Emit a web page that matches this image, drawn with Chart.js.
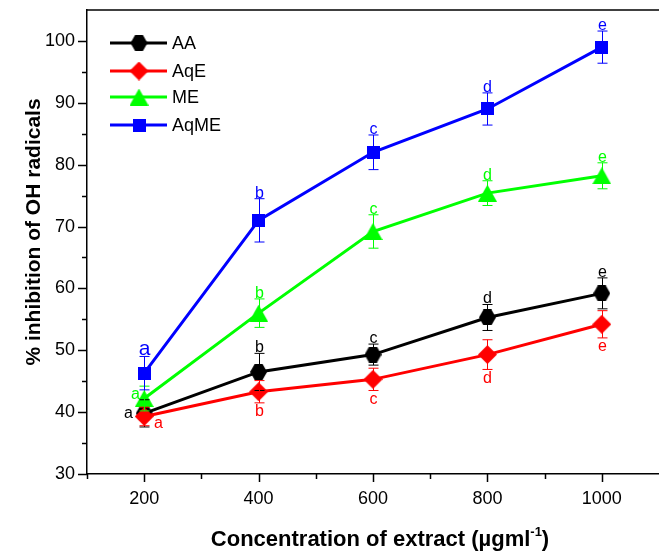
<!DOCTYPE html>
<html>
<head>
<meta charset="utf-8">
<script src="https://cdn.jsdelivr.net/npm/chart.js@4.4.0/dist/chart.umd.min.js"></script>
<style>
  html, body { margin: 0; padding: 0; background: #fff; }
  #wrap { width: 659px; height: 552px; }
</style>
</head>
<body>
<div id="wrap"><canvas id="chart" width="659" height="552"></canvas></div>
<script>
// data
const concentrations = [200, 400, 600, 800, 1000];

const aaValues   = [39.8, 46.5, 49.3, 55.3, 59.2];
const aaErrors   = [2.2, 3.0, 1.7, 2.1, 2.5];
const aaLetters  = ["a", "b", "c", "d", "e"];

const aqeValues  = [39.3, 43.3, 45.3, 49.3, 54.2];
const aqeErrors  = [1.5, 1.8, 1.8, 2.4, 2.2];
const aqeLetters = ["a", "b", "c", "d", "e"];

const meValues   = [42.2, 56.0, 69.2, 75.4, 78.2];
const meErrors   = [2.0, 2.3, 2.7, 2.0, 2.1];
const meLetters  = ["a", "b", "c", "d", "e"];

const aqmeValues  = [46.3, 71.0, 82.0, 89.0, 99.0];
const aqmeErrors  = [2.7, 3.5, 2.8, 2.6, 2.6];
const aqmeLetters = ["a", "b", "c", "d", "e"];

const yTicks = [30, 40, 50, 60, 70, 80, 90, 100];
const xTicks = [200, 400, 600, 800, 1000];

// marker images (Origin-like symbols)
function makeMarker(shape, color) {
  const c = document.createElement("canvas");
  const dims = { hexagon: [17, 16], diamond: [19, 19], triangle: [19, 17], square: [13, 13] }[shape];
  c.width = dims[0]; c.height = dims[1];
  const g = c.getContext("2d");
  const w = c.width, h = c.height;
  g.fillStyle = color;
  g.beginPath();
  if (shape === "hexagon") {
    g.moveTo(0, h / 2); g.lineTo(w * 0.27, 0); g.lineTo(w * 0.73, 0);
    g.lineTo(w, h / 2); g.lineTo(w * 0.73, h); g.lineTo(w * 0.27, h);
  } else if (shape === "diamond") {
    g.moveTo(w / 2, 0); g.lineTo(w, h / 2); g.lineTo(w / 2, h); g.lineTo(0, h / 2);
  } else if (shape === "triangle") {
    g.moveTo(w / 2, 0); g.lineTo(w, h); g.lineTo(0, h);
  } else {
    g.rect(0, 0, w, h);
  }
  g.closePath();
  g.fill();
  return c;
}

const series = [
  { name: "AA",   color: "#000000", marker: "hexagon",  values: aaValues,   errors: aaErrors,   letters: aaLetters },
  { name: "AqE",  color: "#ff0000", marker: "diamond",  values: aqeValues,  errors: aqeErrors,  letters: aqeLetters },
  { name: "ME",   color: "#00ff00", marker: "triangle", values: meValues,   errors: meErrors,   letters: meLetters },
  { name: "AqME", color: "#0000ff", marker: "square",   values: aqmeValues, errors: aqmeErrors, letters: aqmeLetters },
];
series.forEach(s => { s.img = makeMarker(s.marker, s.color); });

// where each significance letter sits relative to its point
function letterSide(seriesIdx, i) {
  if (i === 0) return ["left", "right", "left", "above"][seriesIdx];
  return seriesIdx === 1 ? "below" : "above";
}

const decor = {
  id: "decor",
  afterDatasetsDraw(chart) {
    const ctx = chart.ctx;
    const xs = chart.scales.x, ys = chart.scales.y;
    ctx.save();
    series.forEach((s, si) => {
      ctx.strokeStyle = s.color;
      ctx.fillStyle = s.color;
      ctx.lineWidth = 1;
      s.values.forEach((v, i) => {
        const px = Math.round(xs.getPixelForValue(concentrations[i])) + 0.5;
        const yt = ys.getPixelForValue(v + s.errors[i]);
        const yb = ys.getPixelForValue(v - s.errors[i]);
        ctx.beginPath();
        ctx.moveTo(px, yt); ctx.lineTo(px, yb);
        ctx.moveTo(px - 5, yt); ctx.lineTo(px + 5, yt);
        ctx.moveTo(px - 5, yb); ctx.lineTo(px + 5, yb);
        ctx.stroke();

        const side = letterSide(si, i);
        const py = ys.getPixelForValue(v);
        ctx.font = (si === 3 && i === 0 ? "21px" : "16px") + " Arial, 'Liberation Sans', sans-serif";
        ctx.textAlign = "center";
        if (side === "above") {
          ctx.textBaseline = "alphabetic";
          ctx.fillText(s.letters[i], px, yt - 1);
        } else if (side === "below") {
          ctx.textBaseline = "top";
          ctx.fillText(s.letters[i], px, yb + 1);
        } else if (side === "left") {
          ctx.textBaseline = "middle";
          ctx.fillText(s.letters[i], px - (si === 0 ? 16 : 9), py - (si === 0 ? 0 : 4));
        } else {
          ctx.textBaseline = "middle";
          ctx.fillText(s.letters[i], px + 14, py + 7);
        }
      });
    });
    ctx.restore();
  },
  afterDraw(chart) {
    const ctx = chart.ctx;
    const xs = chart.scales.x, ys = chart.scales.y;
    const a = chart.chartArea;
    ctx.save();
    ctx.strokeStyle = "#000";
    ctx.lineWidth = 1.5;
    // top frame line
    ctx.beginPath();
    ctx.moveTo(a.left, a.top); ctx.lineTo(a.right, a.top);
    ctx.stroke();
    // y ticks
    ctx.beginPath();
    for (let v = 30; v <= 100; v += 5) {
      const py = Math.round(ys.getPixelForValue(v)) + 0.5;
      const len = v % 10 === 0 ? 9 : 5;
      ctx.moveTo(a.left - len, py); ctx.lineTo(a.left, py);
    }
    // x ticks
    for (let v = 100; v <= 1000; v += 100) {
      const px = Math.round(xs.getPixelForValue(v)) + 0.5;
      const len = v % 200 === 0 ? 8 : 5;
      ctx.moveTo(px, a.bottom); ctx.lineTo(px, a.bottom + len);
    }
    ctx.stroke();

    // axis titles
    ctx.fillStyle = "#000";
    ctx.font = "bold 21px Arial, 'Liberation Sans', sans-serif";
    ctx.textAlign = "center";
    ctx.textBaseline = "middle";
    ctx.save();
    ctx.translate(34, 232);
    ctx.rotate(-Math.PI / 2);
    ctx.fillText("% inhibition of OH radicals", 0, 0);
    ctx.restore();

    const main = "Concentration of extract (\u00b5gml";
    const sup = "-1";
    const tail = ")";
    ctx.textBaseline = "alphabetic";
    ctx.font = "bold 22px Arial, 'Liberation Sans', sans-serif";
    const wMain = ctx.measureText(main).width;
    const wTail = ctx.measureText(tail).width;
    ctx.font = "bold 13px Arial, 'Liberation Sans', sans-serif";
    const wSup = ctx.measureText(sup).width;
    let x0 = 380 - (wMain + wSup + wTail) / 2;
    const base = 546;
    ctx.textAlign = "left";
    ctx.font = "bold 22px Arial, 'Liberation Sans', sans-serif";
    ctx.fillText(main, x0, base);
    ctx.font = "bold 13px Arial, 'Liberation Sans', sans-serif";
    ctx.fillText(sup, x0 + wMain, base - 10);
    ctx.font = "bold 22px Arial, 'Liberation Sans', sans-serif";
    ctx.fillText(tail, x0 + wMain + wSup, base);

    // legend
    const rowY = [43, 71, 97, 125];
    series.forEach((s, i) => {
      const y = rowY[i];
      ctx.strokeStyle = s.color;
      ctx.lineWidth = 3;
      ctx.beginPath();
      ctx.moveTo(110, y); ctx.lineTo(167, y);
      ctx.stroke();
      ctx.drawImage(s.img, 139 - s.img.width / 2, y - s.img.height / 2);
      ctx.fillStyle = "#000";
      ctx.font = "18px Arial, 'Liberation Sans', sans-serif";
      ctx.textBaseline = "middle";
      ctx.textAlign = "left";
      ctx.fillText(s.name, 172, y + 1);
    });
    ctx.restore();
  }
};

new Chart(document.getElementById("chart"), {
  type: "line",
  data: {
    datasets: series.map((s, si) => ({
      label: s.name,
      data: concentrations.map((c, i) => ({ x: c, y: s.values[i] })),
      borderColor: s.color,
      backgroundColor: s.color,
      borderWidth: 3,
      pointStyle: s.img,
      pointRadius: 8,
      tension: 0,
      order: 4 - si,
    })),
  },
  options: {
    responsive: false,
    devicePixelRatio: 1,
    animation: false,
    layout: { autoPadding: false, padding: { left: 0, top: 10, right: 0, bottom: 0 } },
    plugins: { legend: { display: false }, tooltip: { enabled: false } },
    scales: {
      x: {
        type: "linear",
        min: 100,
        max: 1100,
        afterFit: sc => { sc.height = 78; sc.paddingLeft = 0; sc.paddingRight = 0; },
        afterBuildTicks: sc => { sc.ticks = [100, ...xTicks, 1100].map(v => ({ value: v })); },
        ticks: {
          callback: v => (xTicks.includes(v) ? String(v) : ""),
          color: "#000",
          font: { family: "Arial, 'Liberation Sans', sans-serif", size: 18 },
          padding: 14,
          maxRotation: 0,
          autoSkip: false,
        },
        grid: { display: false, drawTicks: false },
        border: { display: true, color: "#000", width: 1.5 },
      },
      y: {
        min: 30,
        max: 105,
        afterFit: sc => { sc.width = 87; sc.paddingTop = 0; sc.paddingBottom = 0; },
        afterBuildTicks: sc => { sc.ticks = yTicks.map(v => ({ value: v })); },
        ticks: {
          color: "#000",
          font: { family: "Arial, 'Liberation Sans', sans-serif", size: 18 },
          padding: 12,
        },
        grid: { display: false, drawTicks: false },
        border: { display: true, color: "#000", width: 1.5 },
      },
    },
  },
  plugins: [decor],
});
</script>
</body>
</html>
